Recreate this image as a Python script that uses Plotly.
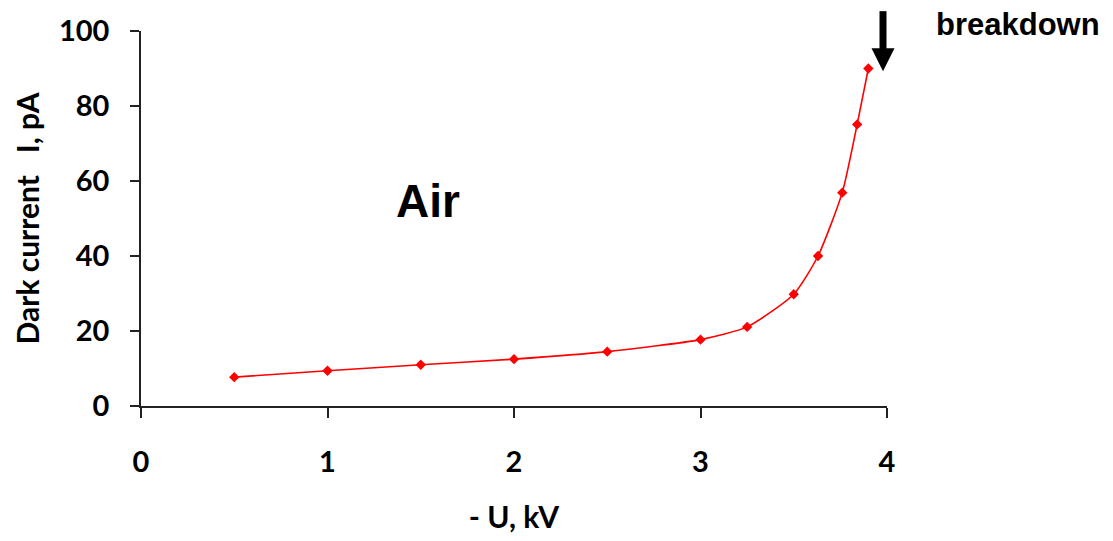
import plotly.graph_objects as go

# Data
voltage_kv = [0.5, 1.0, 1.5, 2.0, 2.5, 3.0, 3.25, 3.5, 3.63, 3.76, 3.84, 3.9]
dark_current_pa = [7.7, 9.4, 11.0, 12.5, 14.5, 17.7, 21.1, 29.8, 40.0, 56.9, 75.1, 90.0]
x_ticks = [0, 1, 2, 3, 4]
y_ticks = [0, 20, 40, 60, 80, 100]

W, H = 1113, 541
L, R, T, B = 141, 226, 29, 134

tick_font = dict(family="Lato", size=29, color="black", weight="bold")
title_font = dict(family="Lato", size=30, color="black", weight="bold")

fig = go.Figure()
fig.add_trace(go.Scatter(
    x=voltage_kv, y=dark_current_pa,
    mode="lines+markers",
    line=dict(color="#ff0000", width=1.6, shape="spline", smoothing=0.6),
    marker=dict(symbol="diamond", size=8, color="#ff0000"),
    showlegend=False, cliponaxis=False,
))

fig.update_layout(
    width=W, height=H,
    margin=dict(l=L, r=R, t=T, b=B, pad=0),
    paper_bgcolor="white", plot_bgcolor="white",
    xaxis=dict(
        range=[0, 4], tickvals=x_ticks, ticktext=[str(v) for v in x_ticks],
        showgrid=False, zeroline=False, showline=True, linecolor="#222", linewidth=1.5,
        ticks="outside", ticklen=10, tickwidth=1.5, tickcolor="#222",
        tickfont=tick_font, ticklabelstandoff=19,
        title=dict(text="- U, kV", font=title_font, standoff=30),
    ),
    yaxis=dict(
        range=[0, 100], tickvals=y_ticks, ticktext=[str(v) for v in y_ticks],
        showgrid=False, zeroline=False, showline=True, linecolor="#222", linewidth=1.5,
        ticks="outside", ticklen=9, tickwidth=1.5, tickcolor="#222",
        tickfont=tick_font, ticklabelstandoff=15,
        title=dict(text="Dark current\u00a0\u00a0\u00a0I, pA", font=title_font, standoff=10),
    ),
)

# "Air" label
fig.add_annotation(x=1.54, y=54.8, xref="x", yref="y", text="Air", showarrow=False,
                   font=dict(family="Liberation Sans", size=46, color="black", weight="bold"))

# "breakdown" label
def px_to_paper(px, py):
    return (px - L) / (W - L - R), (H - B - py) / (H - T - B)

bx, by = px_to_paper(1018, 22)
fig.add_annotation(x=bx, y=by, xref="paper", yref="paper", text="breakdown", showarrow=False,
                   xanchor="center", yanchor="middle",
                   font=dict(family="Liberation Sans", size=31, color="black", weight="bold"))

# breakdown arrow
sx, sy_top = px_to_paper(883, 9)
_, sy_bot = px_to_paper(883, 48)
fig.add_shape(type="line", xref="paper", yref="paper", x0=sx, x1=sx, y0=sy_top, y1=sy_bot,
              line=dict(color="black", width=7))
lx, hy_base = px_to_paper(871.5, 46.5)
rx, _ = px_to_paper(894.5, 46.5)
tx, ty = px_to_paper(883, 69.5)
fig.add_shape(type="path", xref="paper", yref="paper",
              path=f"M {lx} {hy_base} L {rx} {hy_base} L {tx} {ty} Z",
              fillcolor="black", line=dict(color="black", width=0))

fig.write_html("out.html")
